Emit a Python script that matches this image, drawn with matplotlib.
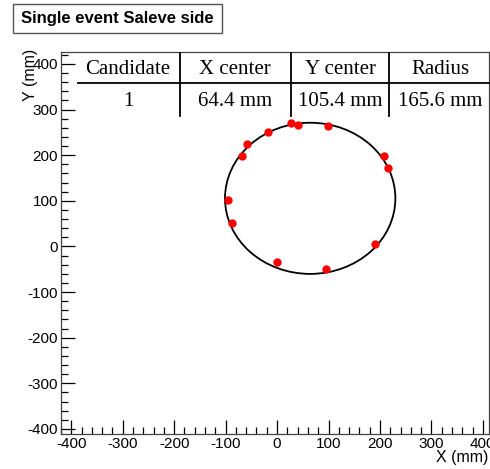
import matplotlib

matplotlib.use("Agg")
import matplotlib.pyplot as plt
from matplotlib.lines import Line2D
from matplotlib.patches import Circle, Rectangle
from matplotlib.ticker import MultipleLocator

plt.rcParams["axes.unicode_minus"] = False

# Hits on the ring (mm)
hit_x = [26.6, 40.7, 98.8, -17.6, -59.3, -69.0, 207.4, 215.9, -95.0, -88.4, 189.9, 0.8, 94.4]
hit_y = [271.0, 266.7, 263.6, 251.4, 225.3, 199.1, 198.3, 172.1, 102.4, 52.3, 5.9, -34.9, -48.6]

# Fitted ring candidate
candidate = 1
x_center = 64.4
y_center = 105.4
radius = 165.6

col_headers = ["Candidate", "X center", "Y center", "Radius"]

W, H = 490, 469
fig = plt.figure(figsize=(W / 100, H / 100), dpi=100)


def fx(px):
    return px / W


def fy(py):
    return 1 - py / H


ax = fig.add_axes([fx(61), fy(434), fx(489) - fx(61), fy(52) - fy(434)])
ax.set_xlim(-420, 412)
ax.set_ylim(-411, 426)

ax.add_patch(Circle((x_center, y_center), radius, fill=False,
                    edgecolor="black", lw=1.3))
ax.plot(hit_x, hit_y, "o", color="red", ms=5, mec="red")

sans = "Liberation Sans"
ax.xaxis.set_major_locator(MultipleLocator(100))
ax.xaxis.set_minor_locator(MultipleLocator(20))
ax.yaxis.set_major_locator(MultipleLocator(100))
ax.yaxis.set_minor_locator(MultipleLocator(20))
ax.tick_params(which="both", direction="in", top=False, right=False,
               labelsize=11, width=0.9)
ax.tick_params(which="major", length=10, pad=2)
ax.tick_params(which="minor", length=5)
for lab in ax.get_xticklabels() + ax.get_yticklabels():
    lab.set_family(sans)
for s in ax.spines.values():
    s.set_color("#444444")
    s.set_linewidth(0.9)

fig.text(fx(488), fy(457), "X (mm)", ha="right", va="center",
         family=sans, fontsize=11.5)
fig.text(fx(30), fy(49), "Y (mm)", ha="center", va="top", rotation=90,
         family=sans, fontsize=11.5)

# Title box
fig.patches.append(Rectangle((fx(13), fy(33)), fx(222) - fx(13), fy(4) - fy(33),
                             transform=fig.transFigure, fill=False,
                             edgecolor="#555555", lw=1.0))
fig.text(fx(117.5), fy(18.5), "Single event Saleve side", ha="center",
         va="center", family=sans, fontweight="bold", fontsize=12)

# Fit summary table
serif = "Liberation Serif"
col_x = [128, 235, 340, 440]
row_vals = [f"{candidate}", f"{x_center:.1f} mm", f"{y_center:.1f} mm",
            f"{radius:.1f} mm"]
for cx, hdr, val in zip(col_x, col_headers, row_vals):
    fig.text(fx(cx), fy(69), hdr, ha="center", va="center",
             family=serif, fontsize=15)
    fig.text(fx(cx), fy(101), val, ha="center", va="center",
             family=serif, fontsize=15)
fig.add_artist(Line2D([fx(78), fx(490)], [fy(83.5), fy(83.5)],
                      transform=fig.transFigure, color="black", lw=1.3))
for vx in [180, 291, 389]:
    fig.add_artist(Line2D([fx(vx), fx(vx)], [fy(53), fy(116)],
                          transform=fig.transFigure, color="black", lw=1.3))

fig.savefig("out.png", dpi=100)
